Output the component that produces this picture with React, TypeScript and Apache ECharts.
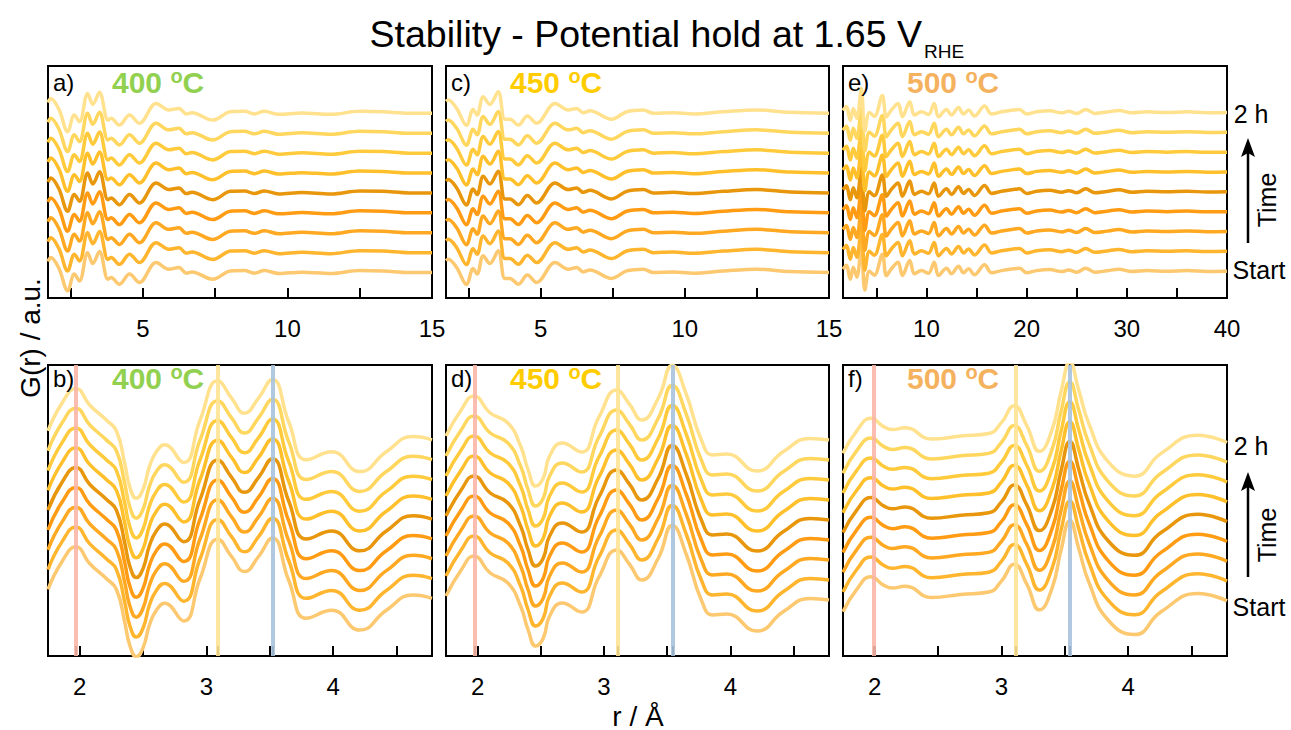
import React, { useEffect, useRef } from 'react';
import * as echarts from 'echarts';

const FONT = '"Liberation Sans", Arial, sans-serif';

// index 0 = Start (bottom curve) ... index 8 = 2 h (top curve)
const curveOffsets = [0, 1, 2, 3, 4, 5, 6, 7, 8];
const curveColors = ['#fcc870', '#ffb52e', '#ffa922', '#ff9c14', '#e8960c', '#ffc02c', '#ffca3c', '#ffd75e', '#ffe18e'];

// G(r) shape of each panel (relative to each curve's baseline)
const rA = [1.72, 1.82, 2.1, 2.4, 2.63, 2.81, 3.09, 3.27, 3.5, 3.79, 3.9, 4.19, 4.54, 4.88, 5.46, 5.9, 6.25, 6.5, 6.7, 7.42, 8.03, 8.52, 8.85, 9.2, 9.7, 10.5, 11.5, 12.5, 13.3, 14.2, 15.0];
const gA = [0.55, 0.75, 0.2, -0.92, -0.08, -0.42, 1.0, 0.45, 1.06, -0.34, -0.25, -0.59, -0.08, -0.5, 0.5, 0.17, 0.25, -0.03, 0.03, -0.34, 0.08, 0.1, -0.03, 0.1, -0.05, 0.02, -0.05, 0.1, 0.08, 0.0, 0.0];

const rC = [1.72, 1.8, 2.09, 2.43, 2.66, 2.8, 3.01, 3.24, 3.53, 3.76, 3.94, 4.23, 4.54, 4.86, 5.5, 5.96, 6.25, 6.48, 6.71, 7.46, 7.98, 8.56, 8.91, 9.6, 10.3, 11.34, 12.49, 13.65, 15.0];
const gC = [0.6, 0.67, 0.25, -0.6, 0.2, -0.08, 0.84, 0.45, 1.09, -0.3, -0.3, -0.59, -0.13, -0.5, 0.5, 0.17, 0.25, 0.03, 0.13, -0.3, 0.08, 0.17, 0.0, 0.03, -0.03, 0.08, 0.17, 0.05, 0.0];

const rE = [1.67, 2.0, 2.4, 2.7, 3.05, 3.5, 3.85, 4.3, 4.8, 5.6, 6.0, 6.5, 7.17, 7.6, 8.33, 8.8, 9.5, 10.2, 10.77, 11.2, 12.0, 12.5, 13.2, 13.7, 14.2, 14.8, 15.8, 16.5, 17.5, 18.7, 19.3, 20.0, 21.0, 22.3, 23.5, 24.2, 25.0, 25.9, 26.8, 28.0, 29.2, 30.5, 32.0, 34.0, 36.0, 38.0, 40.0];
const gE = [0.1, 0.3, -0.4, 0.2, -0.3, 1.2, -0.95, 0.0, -0.2, 0.85, -0.22, 0.12, 0.45, -0.22, 0.54, -0.13, 0.03, -0.1, 0.45, -0.22, 0.15, -0.13, 0.25, -0.08, 0.12, -0.18, 0.32, -0.08, 0.03, 0.12, 0.15, -0.08, 0.03, 0.08, -0.02, 0.06, -0.05, 0.15, -0.05, 0.02, 0.1, -0.02, 0.03, 0.0, 0.03, -0.01, 0.0];

const rB = [1.75, 1.86, 1.97, 2.08, 2.21, 2.29, 2.355, 2.395, 2.447, 2.5, 2.55, 2.605, 2.67, 2.82, 2.95, 3.09, 3.2, 3.3, 3.41, 3.52, 3.65, 3.79, 3.99, 4.21, 4.42, 4.63, 4.78];
const gB = [0.45, 1.85, 2.6, 1.75, 1.0, 0.45, -1.18, -2.36, -2.95, -2.5, -1.35, -0.6, -0.25, -1.14, 1.0, 2.98, 2.1, 1.35, 2.1, 3.05, 0.9, -1.0, -0.6, -1.6, -0.6, 0.17, 0.0];

const rD = [1.75, 1.87, 1.97, 2.1, 2.24, 2.34, 2.4, 2.46, 2.52, 2.57, 2.67, 2.82, 2.96, 3.1, 3.2, 3.3, 3.43, 3.54, 3.65, 3.77, 3.86, 3.97, 4.21, 4.42, 4.63, 4.78];
const gD = [0.2, 1.5, 2.2, 1.35, 0.85, -0.3, -1.5, -2.3, -1.9, -0.8, -0.15, -0.6, 1.15, 2.5, 1.8, 1.0, 2.1, 3.72, 2.3, 0.0, -0.75, -0.7, -1.55, -0.58, 0.08, 0.0];

const rF = [1.75, 1.86, 1.97, 2.07, 2.14, 2.24, 2.45, 2.68, 2.9, 3.0, 3.1, 3.2, 3.3, 3.4, 3.47, 3.54, 3.61, 3.69, 3.84, 4.05, 4.26, 4.55, 4.78];
const gF = [-0.6, 0.55, 1.17, 0.75, 0.6, 0.69, 0.12, 0.28, 0.4, 0.95, 1.8, 0.8, -0.5, 0.6, 2.5, 4.0, 2.6, 0.9, -1.0, -1.75, -0.6, 0.32, -0.05];

const markersB = [1.97, 3.09, 3.52];
const markersD = [1.98, 3.11, 3.54];
const markersF = [1.99, 3.11, 3.54];
const markerColors = ['#f9b6a6', '#ffe394', '#a8c3dd'];

const ticksAC = [2.5, 5, 7.5, 10, 12.5];
const labelsAC = [5, 10, 15];
const ticksE = [5, 10, 15, 20, 25, 30, 35];
const labelsE = [10, 20, 30, 40];
const ticksBottom = [2, 2.5, 3, 3.5, 4, 4.5];
const labelsBottom = [2, 3, 4];

const panelLetters = ['a)', 'c)', 'e)', 'b)', 'd)', 'f)'];
const panelTemps = ['400', '450', '500', '400', '450', '500'];
const tempColors: Record<string, string> = { '400': '#92d050', '450': '#ffcc00', '500': '#f4b25e' };

const TITLE = 'Stability - Potential hold at 1.65 V';
const TITLE_SUB = 'RHE';
const Y_TITLE = 'G(r) / a.u.';
const X_TITLE = 'r / Å';

type Panel = {
  r: number[]; g: number[]; xMin: number; xMax: number; yMin: number; yMax: number;
  ticks: number[]; labels: number[]; markers: number[] | null; smooth: number;
  left: number; top: number; width: number; height: number;
};

const colLeft = [48, 446, 843];
const colWidth = [384, 383, 384];
const rowTop = [66, 365];
const rowHeight = [232, 291];

const panels: Panel[] = [
  { r: rA, g: gA, xMin: 1.72, xMax: 15, yMin: -1.28, yMax: 10.38, ticks: ticksAC, labels: labelsAC, markers: null, smooth: 0.35, left: colLeft[0], top: rowTop[0], width: colWidth[0], height: rowHeight[0] },
  { r: rC, g: gC, xMin: 1.72, xMax: 15, yMin: -1.28, yMax: 10.38, ticks: ticksAC, labels: labelsAC, markers: null, smooth: 0.35, left: colLeft[1], top: rowTop[0], width: colWidth[1], height: rowHeight[0] },
  { r: rE, g: gE, xMin: 1.67, xMax: 40, yMin: -1.35, yMax: 10.34, ticks: ticksE, labels: labelsE, markers: null, smooth: 0.35, left: colLeft[2], top: rowTop[0], width: colWidth[2], height: rowHeight[0] },
  { r: rB, g: gB, xMin: 1.75, xMax: 4.78, yMin: -2.91, yMax: 11.78, ticks: ticksBottom, labels: labelsBottom, markers: markersB, smooth: 0.5, left: colLeft[0], top: rowTop[1], width: colWidth[0], height: rowHeight[1] },
  { r: rD, g: gD, xMin: 1.75, xMax: 4.78, yMin: -2.8, yMax: 11.75, ticks: ticksBottom, labels: labelsBottom, markers: markersD, smooth: 0.5, left: colLeft[1], top: rowTop[1], width: colWidth[1], height: rowHeight[1] },
  { r: rF, g: gF, xMin: 1.75, xMax: 4.78, yMin: -2.83, yMax: 11.86, ticks: ticksBottom, labels: labelsBottom, markers: markersF, smooth: 0.5, left: colLeft[2], top: rowTop[1], width: colWidth[2], height: rowHeight[1] },
];

function buildOption() {
  const grid: any[] = [];
  const xAxis: any[] = [];
  const yAxis: any[] = [];
  const series: any[] = [];
  const graphic: any[] = [];

  panels.forEach((p, i) => {
    grid.push({ left: p.left, top: p.top, width: p.width, height: p.height, show: true, borderColor: '#000', borderWidth: 2, backgroundColor: 'transparent' });
    const tickVals = p.markers ? [...p.ticks, ...p.markers] : p.ticks;
    xAxis.push({
      type: 'value', gridIndex: i, min: p.xMin, max: p.xMax, position: 'bottom',
      axisLine: { show: false, onZero: false }, splitLine: { show: false },
      axisTick: { show: true, inside: true, length: 10, lineStyle: { color: '#000', width: 2 }, customValues: tickVals },
      axisLabel: { show: true, customValues: p.labels, margin: 18, fontSize: 24, color: '#000', fontFamily: FONT, hideOverlap: false, formatter: (v: number) => String(v) },
    });
    yAxis.push({ type: 'value', gridIndex: i, min: p.yMin, max: p.yMax, show: false });
    curveOffsets.forEach((off, k) => {
      series.push({
        type: 'line', xAxisIndex: i, yAxisIndex: i, silent: true, smooth: p.smooth, symbol: 'none', showSymbol: false, clip: true, z: 2,
        lineStyle: { color: curveColors[k], width: 3.5 },
        data: p.r.map((x, j) => [x, p.g[j] + off]),
      });
    });
    if (p.markers) {
      series.push({
        type: 'line', xAxisIndex: i, yAxisIndex: i, silent: true, symbol: 'none', z: 3,
        lineStyle: { opacity: 0 }, data: [[p.xMin, 0]],
        markLine: {
          silent: true, symbol: ['none', 'none'], label: { show: false }, animation: false,
          data: p.markers.map((m, k) => ({ xAxis: m, lineStyle: { color: markerColors[k], width: 4, type: 'solid', opacity: 0.9 } })),
        },
      });
    }
    // panel letter and temperature
    const ty = p.top + (i < 3 ? 16 : 13);
    graphic.push({ type: 'text', x: p.left + 5, y: ty, z: 10, style: { text: panelLetters[i], fontSize: 24, fontFamily: FONT, fill: '#000', align: 'left', verticalAlign: 'middle' } });
    const t = panelTemps[i];
    graphic.push({
      type: 'text', x: p.left + 64, y: ty, z: 10,
      style: {
        text: `{n|${t} }{o|o}{n|C}`, align: 'left', verticalAlign: 'middle', fontFamily: FONT,
        rich: {
          n: { fontSize: 30, fontWeight: 'bold', fill: tempColors[t], fontFamily: FONT, lineHeight: 32 },
          o: { fontSize: 20, fontWeight: 'bold', fill: tempColors[t], fontFamily: FONT, lineHeight: 20, verticalAlign: 'top' },
        },
      },
    });
  });

  // titles
  graphic.push({ type: 'text', x: 922, y: 34, style: { text: TITLE, fontSize: 37.5, fontFamily: FONT, fill: '#000', align: 'right', verticalAlign: 'middle' } });
  graphic.push({ type: 'text', x: 924, y: 51, style: { text: TITLE_SUB, fontSize: 19, fontFamily: FONT, fill: '#000', align: 'left', verticalAlign: 'middle' } });
  graphic.push({ type: 'text', x: 30, y: 338, rotation: Math.PI / 2, style: { text: Y_TITLE, fontSize: 28, fontFamily: FONT, fill: '#000', align: 'center', verticalAlign: 'middle' } });
  graphic.push({ type: 'text', x: 638, y: 716, style: { text: X_TITLE, fontSize: 28, fontFamily: FONT, fill: '#000', align: 'center', verticalAlign: 'middle' } });

  // time arrows on the right
  const rows = [
    { h: 114, aTop: 138, aBot: 243, time: 200, start: 270 },
    { h: 446, aTop: 472, aBot: 577, time: 535, start: 607 },
  ];
  rows.forEach((rw) => {
    graphic.push({ type: 'text', x: 1251, y: rw.h, style: { text: '2 h', fontSize: 25, fontFamily: FONT, fill: '#000', align: 'center', verticalAlign: 'middle' } });
    graphic.push({ type: 'line', shape: { x1: 1248, y1: rw.aBot, x2: 1248, y2: rw.aTop + 14 }, style: { stroke: '#000', lineWidth: 2.5 } });
    graphic.push({ type: 'polygon', shape: { points: [[1248, rw.aTop], [1241, rw.aTop + 19], [1248, rw.aTop + 15], [1255, rw.aTop + 19]] }, style: { fill: '#000' } });
    graphic.push({ type: 'text', x: 1267, y: rw.time, rotation: Math.PI / 2, style: { text: 'Time', fontSize: 25, fontFamily: FONT, fill: '#000', align: 'center', verticalAlign: 'middle' } });
    graphic.push({ type: 'text', x: 1259, y: rw.start, style: { text: 'Start', fontSize: 25, fontFamily: FONT, fill: '#000', align: 'center', verticalAlign: 'middle' } });
  });

  return { animation: false, backgroundColor: '#fff', grid, xAxis, yAxis, series, graphic };
}

export default function App() {
  const ref = useRef<HTMLDivElement>(null);
  useEffect(() => {
    if (!ref.current) return;
    const chart = echarts.init(ref.current, null, { renderer: 'svg' });
    chart.setOption(buildOption() as any);
    return () => chart.dispose();
  }, []);
  return <div ref={ref} style={{ position: 'absolute', left: 0, top: 0, width: 1291, height: 730 }} />;
}
